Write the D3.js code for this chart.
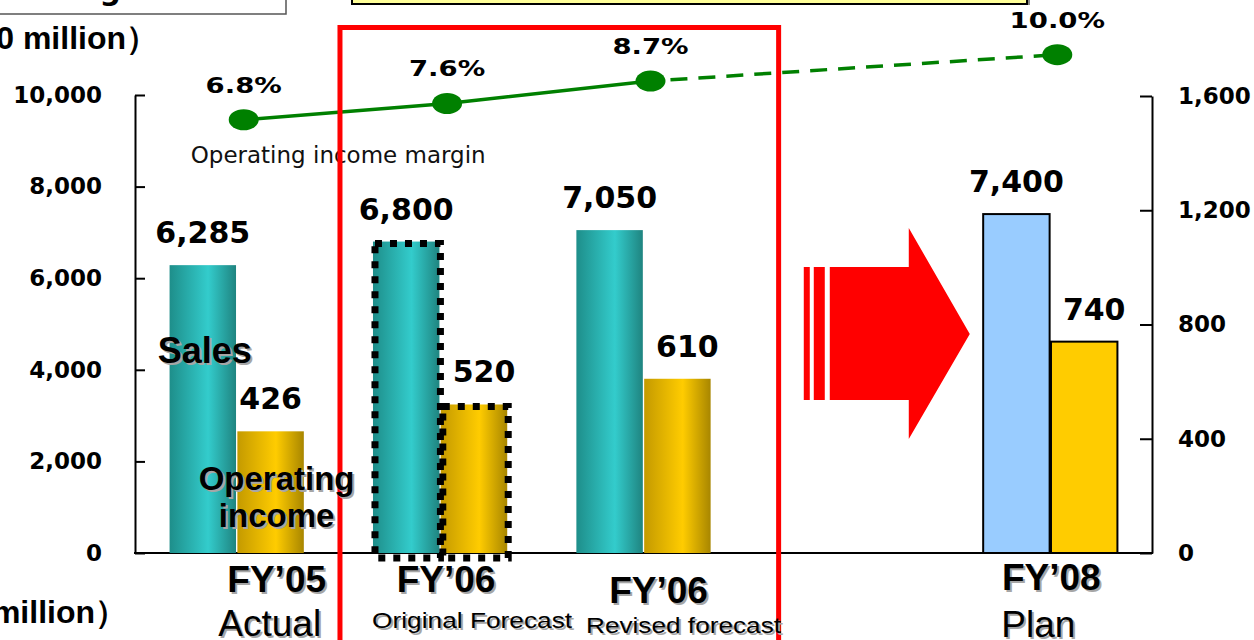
<!DOCTYPE html>
<html>
<head>
<meta charset="utf-8">
<script src="https://cdn.jsdelivr.net/npm/d3@7"></script>
<style>
  body { margin: 0; background: #fff; }
  svg { display: block; }
</style>
</head>
<body>
<div id="chart"></div>
<script>
// ---- data ----
const categories = ["FY\u201905", "FY\u201906", "FY\u201906", "FY\u201908"];
const subLabels = ["Actual", "Original Forecast", "Revised forecast", "Plan"];
const sales = [6285, 6800, 7050, 7400];            // left axis, ¥100 million
const operatingIncome = [426, 520, 610, 740];      // right axis, ¥100 million
const incomeMargin = [6.8, 7.6, 8.7, 10.0];        // %
const salesTicks = [0, 2000, 4000, 6000, 8000, 10000];
const incomeTicks = [0, 400, 800, 1200, 1600];
const slots = ["FY05", "FY06o", "FY06r", "arrow", "FY08"];   // one empty slot holds the arrow
const barSlots = ["FY05", "FY06o", "FY06r", "FY08"];

// label nudges (layout only)
const fyNudge = [{dx: 40, y: 592}, {dx: 6, y: 592}, {dx: 15, y: 603}, {dx: 1, y: 590}];
const subNudge = [{dx: 33, y: 636, size: 37}, {dx: 32, y: 628, size: 22, len: 200},
                  {dx: 40, y: 633, size: 22, len: 195}, {dx: -12, y: 637, size: 37}];

const W = 1254, H = 640;
const svg = d3.select("#chart").append("svg").attr("width", W).attr("height", H);

const x = d3.scaleBand().domain(slots).range([135, 1152]).paddingInner(0.34).paddingOuter(0.17);
const xs = d3.scaleBand().domain(["sales", "income"]).range([0, x.bandwidth()]).paddingInner(0.02);
const yL = d3.scaleLinear().domain([0, 10000]).range([553, 95]);
const yR = d3.scaleLinear().domain([0, 1600]).range([553, 96]);
const yP = d3.scaleLinear().domain([0, 12]).range([258, 14]);

const rows = barSlots.map((s, i) => ({
  slot: s, cat: categories[i], sub: subLabels[i],
  sales: sales[i], income: operatingIncome[i], margin: incomeMargin[i], i
}));

const BOLD_V = "'DejaVu Sans', Verdana, sans-serif";
const ARIAL = "'Liberation Sans', Arial, sans-serif";

// gradients for the shaded bars
const defs = svg.append("defs");
function grad(id, left, mid, right) {
  const g = defs.append("linearGradient").attr("id", id).attr("x1", 0).attr("x2", 1).attr("y1", 0).attr("y2", 0);
  g.append("stop").attr("offset", "0%").attr("stop-color", left);
  g.append("stop").attr("offset", "58%").attr("stop-color", mid);
  g.append("stop").attr("offset", "100%").attr("stop-color", right);
}
grad("gSales", "#1e8e8a", "#33cccc", "#1f8480");
grad("gIncome", "#c49a00", "#ffcc00", "#a88600");

// ---- top decorations (cut off by the slide crop) ----
svg.append("rect").attr("x", -2).attr("y", -40).attr("width", 288).attr("height", 54)
  .attr("fill", "#fff").attr("stroke", "#555").attr("stroke-width", 1.5);
svg.append("text").attr("x", 253).attr("y", 0).attr("text-anchor", "end")
  .style("font", `bold 30px ${BOLD_V}`).text("Sales and Operating income");
svg.append("rect").attr("x", 355).attr("y", -38).attr("width", 675).attr("height", 43)
  .attr("fill", "#888");
svg.append("rect").attr("x", 352).attr("y", -40).attr("width", 675).attr("height", 44)
  .attr("fill", "#ffff99").attr("stroke", "#000").attr("stroke-width", 2);

svg.append("text").attr("x", 158).attr("y", 49).attr("text-anchor", "end")
  .style("font", `bold 32px ${ARIAL}`).text("（¥100 million）");
svg.append("text").attr("x", 127).attr("y", 623).attr("text-anchor", "end")
  .style("font", `bold 32px ${ARIAL}`).text("（¥100 million）");

// ---- axes ----
const axL = svg.append("g").call(
  d3.axisLeft(yL).tickValues(salesTicks).tickFormat(d3.format(","))
    .tickSizeInner(-10).tickSizeOuter(0).tickPadding(33)
).attr("transform", "translate(135,0)");
const axR = svg.append("g").call(
  d3.axisRight(yR).tickValues(incomeTicks).tickFormat(d3.format(","))
    .tickSizeInner(-12).tickSizeOuter(0).tickPadding(26)
).attr("transform", "translate(1152,0)");
[axL, axR].forEach(a => {
  a.selectAll("path, line").attr("stroke", "#000").attr("stroke-width", 2);
  a.selectAll("text").attr("fill", "#000").style("font", `bold 23px ${BOLD_V}`);
});
svg.append("line").attr("x1", 134).attr("x2", 1153).attr("y1", yL(0)).attr("y2", yL(0))
  .attr("stroke", "#000").attr("stroke-width", 2);

// ---- bars ----
const bars = svg.append("g");
rows.forEach(d => {
  const plan = d.sub === "Plan";
  const sx = x(d.slot) + xs("sales"), ix = x(d.slot) + xs("income"), bw = xs.bandwidth();
  bars.append("rect").attr("x", sx).attr("y", yL(d.sales)).attr("width", bw)
    .attr("height", yL(0) - yL(d.sales))
    .attr("fill", plan ? "#99ccff" : "url(#gSales)")
    .attr("stroke", plan ? "#000" : "none").attr("stroke-width", 2);
  bars.append("rect").attr("x", ix).attr("y", yR(d.income)).attr("width", bw)
    .attr("height", yR(0) - yR(d.income))
    .attr("fill", plan ? "#ffcc00" : "url(#gIncome)")
    .attr("stroke", plan ? "#000" : "none").attr("stroke-width", 2);
  if (d.sub === "Original Forecast") {
    // dotted outline marking the original forecast
    [[sx, yL(d.sales)], [ix, yR(d.income)]].forEach(([bx, by]) => {
      bars.append("rect").attr("x", bx + 2).attr("y", by + 2).attr("width", bw - 1)
        .attr("height", yL(0) - by + 3)
        .attr("fill", "none").attr("stroke", "#000").attr("stroke-width", 7)
        .attr("stroke-dasharray", "7 8");
    });
  }
});

// ---- arrow in the empty slot ----
const ax0 = x("arrow");
const arrow = svg.append("g").attr("fill", "#ff0000");
arrow.append("rect").attr("x", ax0 + 24).attr("y", 267).attr("width", 6).attr("height", 133);
arrow.append("rect").attr("x", ax0 + 34).attr("y", 267).attr("width", 11).attr("height", 133);
arrow.append("polygon").attr("points", [
  [ax0 + 50, 267], [ax0 + 129, 267], [ax0 + 129, 228], [ax0 + 190, 334],
  [ax0 + 129, 439], [ax0 + 129, 400], [ax0 + 50, 400]
].map(p => p.join(",")).join(" "));

// ---- margin line ----
const px = d => x(d.slot) + x.bandwidth() / 2 + 7;
const line = d3.line().x(px).y(d => yP(d.margin));
svg.append("path").datum(rows.slice(0, 3)).attr("d", line)
  .attr("fill", "none").attr("stroke", "#008000").attr("stroke-width", 3.5);
svg.append("path").datum(rows.slice(2)).attr("d", line)
  .attr("fill", "none").attr("stroke", "#008000").attr("stroke-width", 3.5)
  .attr("stroke-dasharray", "17 11").attr("stroke-dashoffset", -20);
svg.selectAll(".dot").data(rows).enter().append("ellipse")
  .attr("cx", px).attr("cy", d => yP(d.margin)).attr("rx", 15).attr("ry", 10.5)
  .attr("fill", "#008000");
svg.selectAll(".pct").data(rows).enter().append("text")
  .attr("transform", d => `translate(${px(d)},${yP(d.margin) - 27}) scale(1.25,1)`)
  .attr("text-anchor", "middle").style("font", `bold 22px ${BOLD_V}`)
  .text(d => d3.format(".1f")(d.margin) + "%");
svg.append("text").attr("x", px(rows[0]) - 53).attr("y", 163)
  .style("font", `23px ${BOLD_V}`).attr("fill", "#111").text("Operating income margin");

// ---- red frame around FY'06 ----
const fl = x("FY06o") - 33, fr = x("FY06r") + x.bandwidth() + 68;
svg.append("rect").attr("x", fl).attr("y", 27.5).attr("width", fr - fl).attr("height", 700)
  .attr("fill", "none").attr("stroke", "#ff0000").attr("stroke-width", 5);

// ---- value labels ----
const vals = svg.append("g").attr("text-anchor", "middle").style("font", `bold 30px ${BOLD_V}`);
rows.forEach(d => {
  const bw = xs.bandwidth();
  vals.append("text").attr("x", x(d.slot) + xs("sales") + bw / 2).attr("y", yL(d.sales) - 22)
    .text(d3.format(",")(d.sales));
  vals.append("text").attr("x", x(d.slot) + xs("income") + bw / 2 + (d.i ? 10 : 0)).attr("y", yR(d.income) - 22)
    .text(d3.format(",")(d.income));
});

// shadowed text helper
function shadowText(tx, ty, str, font, opts = {}) {
  [["#a6a6a6", 2], ["#000", 0]].forEach(([c, o]) => {
    const t = svg.append("text").attr("x", tx + o).attr("y", ty + o)
      .attr("text-anchor", "middle").attr("fill", c).style("font", font).text(str);
    if (opts.len) t.attr("textLength", opts.len).attr("lengthAdjust", "spacingAndGlyphs");
  });
}

// series annotations next to FY'05 bars
const c0 = x("FY05");
shadowText(c0 + xs("sales") + xs.bandwidth() / 2 + 2, 363, "Sales", `bold 36px ${ARIAL}`);
shadowText(c0 + xs("income") + xs.bandwidth() / 2 + 6, 490, "Operating", `bold 33px ${ARIAL}`);
shadowText(c0 + xs("income") + xs.bandwidth() / 2 + 6, 527, "income", `bold 33px ${ARIAL}`);

// ---- category labels ----
rows.forEach((d, i) => {
  const cx = x(d.slot) + x.bandwidth() / 2;
  shadowText(cx + fyNudge[i].dx, fyNudge[i].y, d.cat, `bold 37px ${ARIAL}`);
  const s = subNudge[i];
  shadowText(cx + s.dx, s.y, d.sub, `${s.size}px ${ARIAL}`, {len: s.len});
});
</script>
</body>
</html>
